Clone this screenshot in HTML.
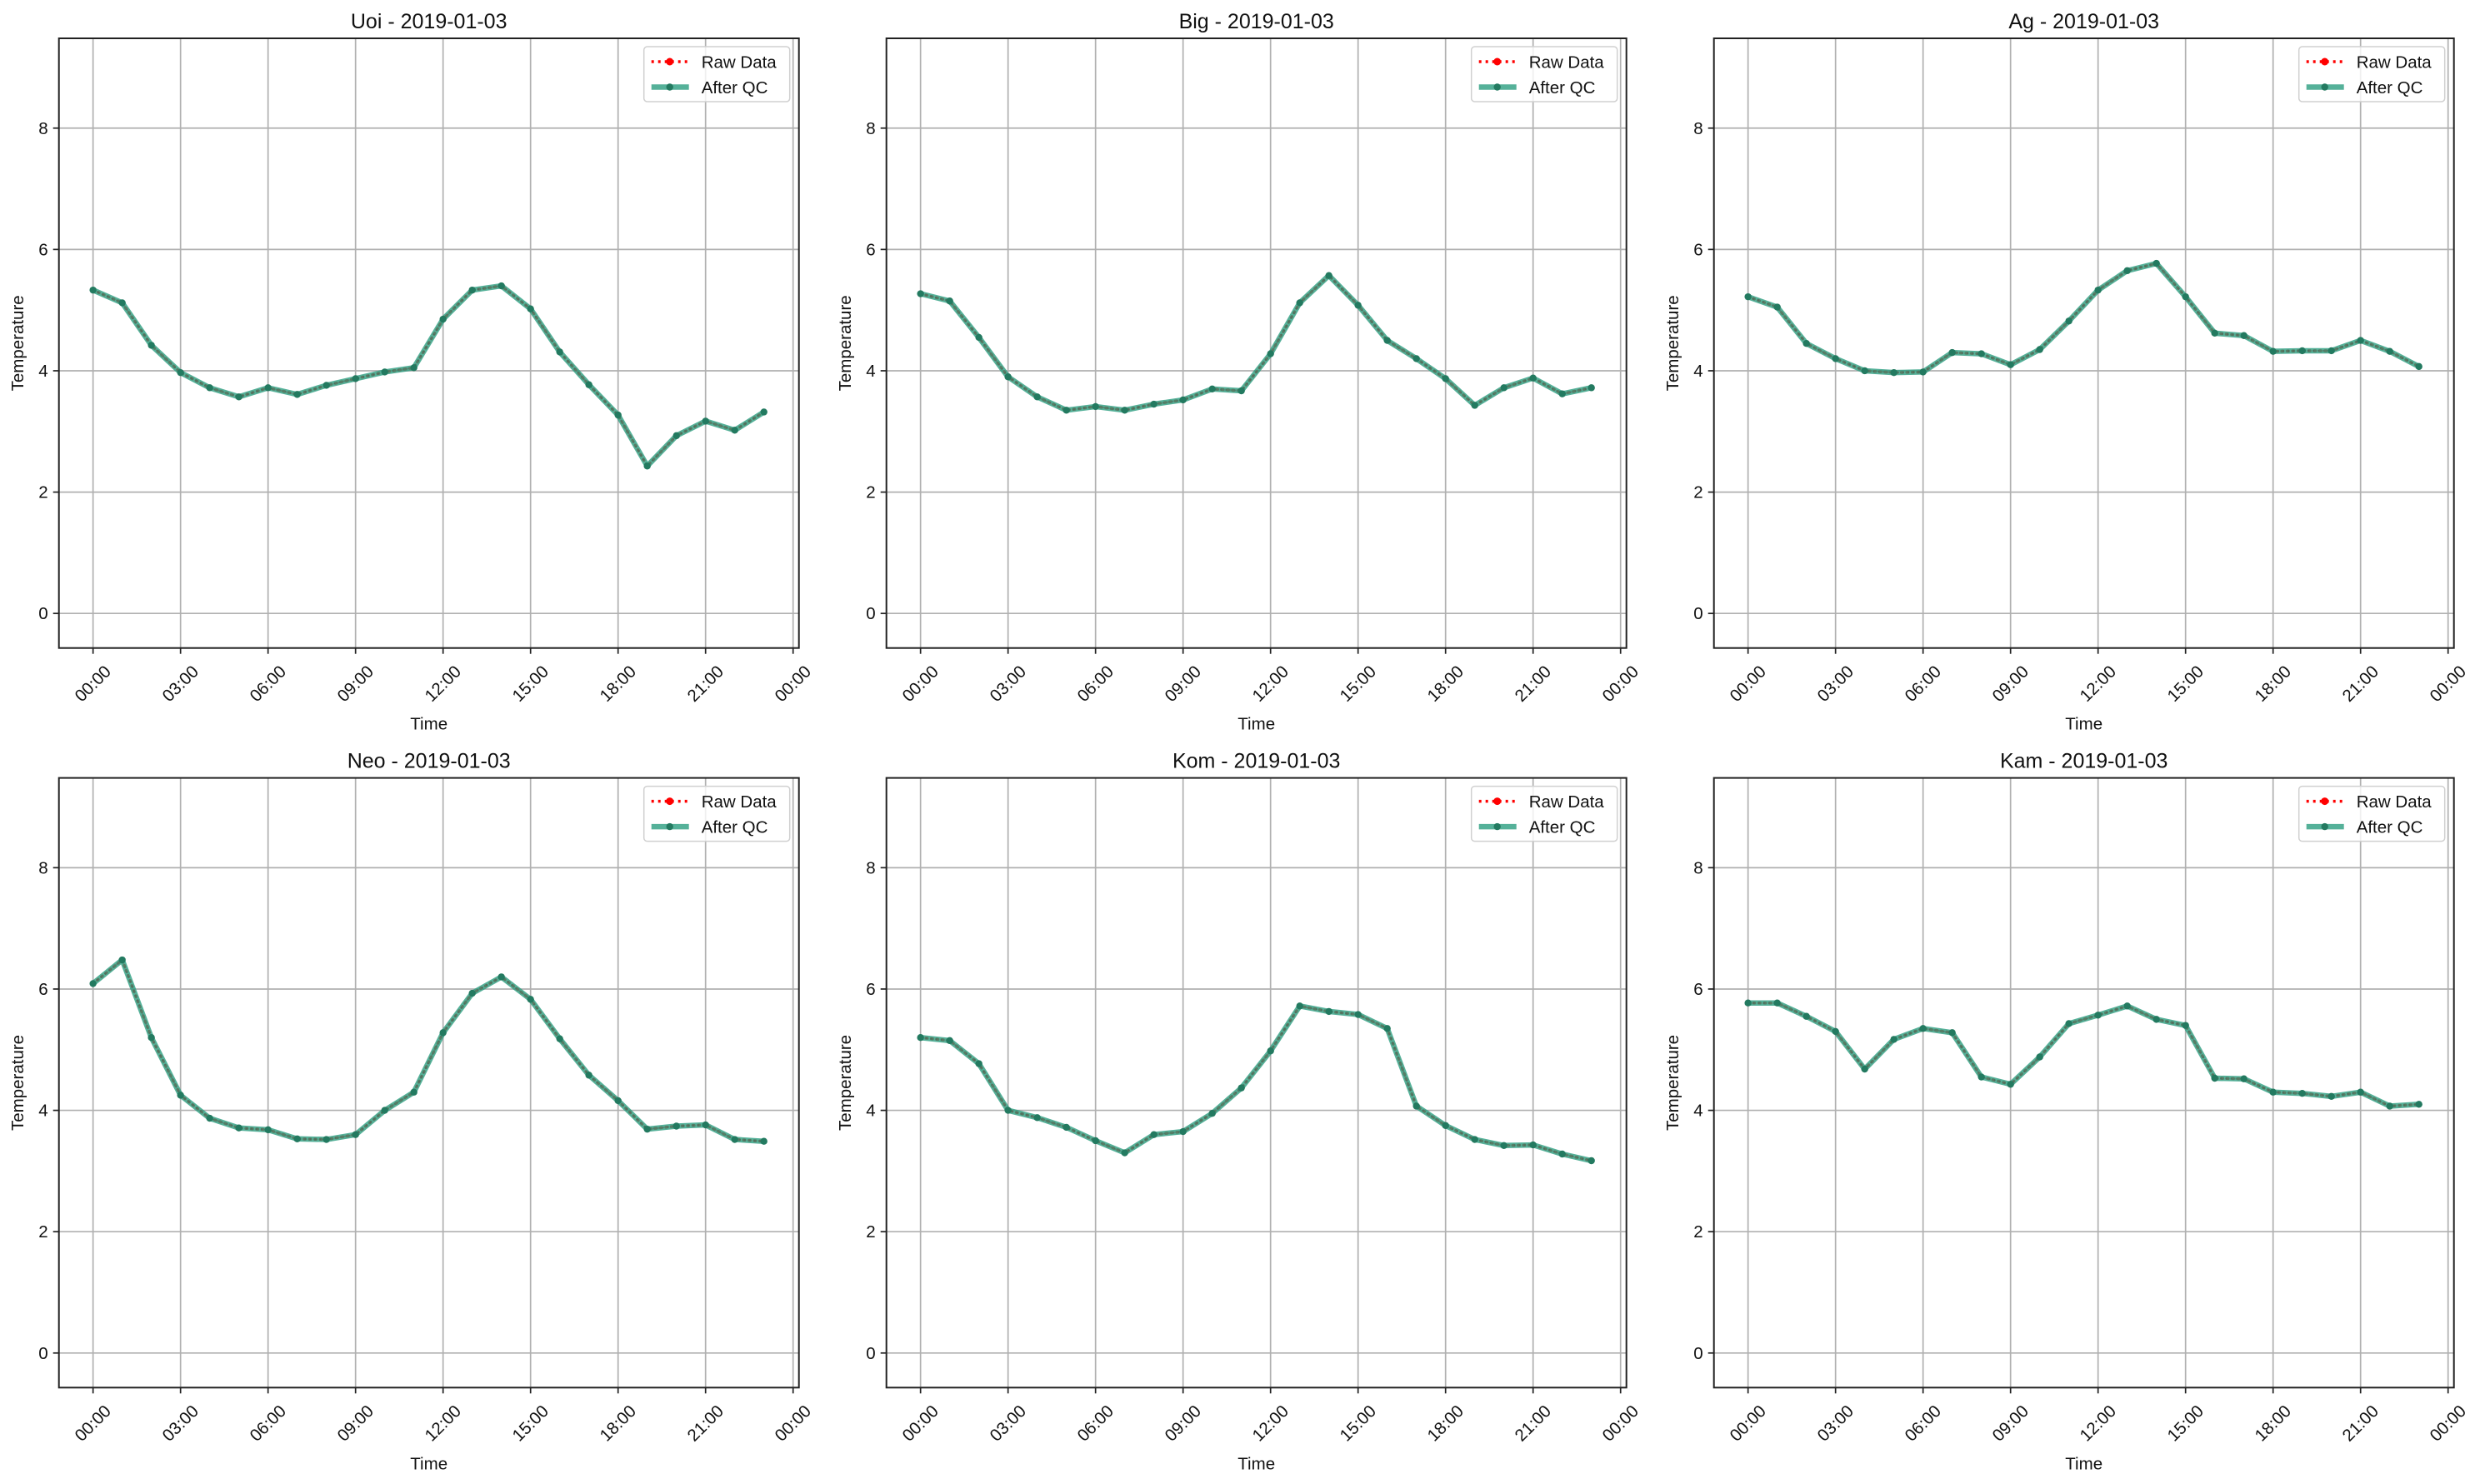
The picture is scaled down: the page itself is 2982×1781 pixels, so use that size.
<!DOCTYPE html>
<html><head><meta charset="utf-8"><style>
html,body{margin:0;padding:0;background:#fff;}
svg{display:block;font-family:"Liberation Sans","DejaVu Sans",sans-serif;}
</style></head><body>
<svg id="fig" width="2982" height="1781" viewBox="0 0 2982 1781" xmlns="http://www.w3.org/2000/svg"></svg>
<script>
const stations = ["Uoi","Big","Ag","Neo","Kom","Kam"];
const dateLabel = "2019-01-03";
const hours = [0,1,2,3,4,5,6,7,8,9,10,11,12,13,14,15,16,17,18,19,20,21,22,23];
const tempUoi = [5.33,5.12,4.42,3.97,3.72,3.57,3.72,3.61,3.76,3.87,3.98,4.05,4.85,5.33,5.40,5.02,4.31,3.77,3.27,2.43,2.93,3.17,3.02,3.32];
const tempBig = [5.27,5.15,4.55,3.90,3.57,3.35,3.41,3.35,3.45,3.52,3.70,3.67,4.28,5.12,5.57,5.08,4.50,4.20,3.87,3.43,3.72,3.88,3.62,3.72];
const tempAg  = [5.22,5.05,4.45,4.20,4.00,3.97,3.98,4.30,4.28,4.10,4.35,4.82,5.33,5.65,5.77,5.22,4.62,4.58,4.32,4.33,4.33,4.50,4.32,4.07];
const tempNeo = [6.09,6.48,5.20,4.25,3.87,3.71,3.68,3.53,3.52,3.60,4.00,4.30,5.28,5.93,6.20,5.83,5.18,4.58,4.16,3.69,3.74,3.76,3.52,3.49];
const tempKom = [5.20,5.15,4.77,4.00,3.88,3.72,3.50,3.30,3.60,3.65,3.95,4.37,4.98,5.72,5.63,5.58,5.35,4.07,3.75,3.52,3.42,3.43,3.28,3.17];
const tempKam = [5.77,5.77,5.55,5.30,4.68,5.17,5.35,5.28,4.55,4.43,4.88,5.43,5.57,5.72,5.50,5.40,4.53,4.52,4.30,4.28,4.23,4.30,4.07,4.10];
const yTicks = [0,2,4,6,8];
const xTickHours = [0,3,6,9,12,15,18,21,24];
const xTickLabels = ["00:00","03:00","06:00","09:00","12:00","15:00","18:00","21:00","00:00"];
const allSeries = [tempUoi,tempBig,tempAg,tempNeo,tempKom,tempKam];

const NS="http://www.w3.org/2000/svg";
const svg=document.getElementById('fig');
function mk(tag,attrs,parent){const e=document.createElementNS(NS,tag);for(const k in attrs)e.setAttribute(k,attrs[k]);(parent||svg).appendChild(e);return e;}

const W=888,H=731.7,X0=-1.17,X1=24.2,Y0=-0.57,Y1=9.48;
const colL=[70.7,1063.7,2056.7], rowT=[46,933.6];

stations.forEach((name,i)=>{
  const L=colL[i%3], T=rowT[Math.floor(i/3)];
  const sx=h=>L+(h-X0)/(X1-X0)*W;
  const sy=v=>T+(Y1-v)/(Y1-Y0)*H;
  const g=mk('g',{});
  
  
  xTickHours.forEach((h,k)=>{
    const x=sx(h);
    if(x<=L+W){const gl=mk('line',{x1:x,x2:x,y1:T,y2:T+H,stroke:'#b0b0b0','stroke-width':1.7},g);
      }
    const tk=mk('line',{x1:x,x2:x,y1:T+H,y2:T+H+7,stroke:'#222','stroke-width':1.7},g);
    
    const cy=T+H+43;
    const t=mk('text',{x:x,y:cy,'font-size':20.5,'text-anchor':'middle','dominant-baseline':'central',fill:'#111',transform:`rotate(-45 ${x} ${cy})`},g);
    t.textContent=xTickLabels[k];
    
  });
  yTicks.forEach(v=>{
    const y=sy(v);
    const gl=mk('line',{x1:L,x2:L+W,y1:y,y2:y,stroke:'#b0b0b0','stroke-width':1.7},g);
    
    const tk=mk('line',{x1:L-7,x2:L,y1:y,y2:y,stroke:'#222','stroke-width':1.7},g);
    
    const t=mk('text',{x:L-13,y:y+7,'font-size':20.5,'text-anchor':'end',fill:'#111'},g);
    t.textContent=String(v);
    
  });
  const data=allSeries[i];
  const pts=hours.map((h,k)=>sx(h)+','+sy(data[k])).join(' ');
  const raw=mk('polyline',{points:pts,fill:'none',stroke:'#ff0000','stroke-width':3.5,'stroke-dasharray':'1.5 5','stroke-linecap':'round'},g);
  
  const qc=mk('polyline',{points:pts,fill:'none',stroke:'#2a9d7f','stroke-opacity':0.8,'stroke-width':6.5,'stroke-linejoin':'round'},g);
  
  const dl=mk('polyline',{points:pts,fill:'none',stroke:'#4a5a50','stroke-opacity':0.4,'stroke-width':2.2,'stroke-dasharray':'2 4'},g);
  
  hours.forEach((h,k)=>{
    const c=mk('circle',{cx:sx(h),cy:sy(data[k]),r:4.2,fill:'#237a60'},g);
    
  });
  const fr=mk('rect',{x:L,y:T,width:W,height:H,fill:'none',stroke:'#222','stroke-width':2},g);
  
  const ti=mk('text',{x:L+W/2,y:T-12,'font-size':25,'text-anchor':'middle',fill:'#111'},g);
  ti.textContent=name+' - '+dateLabel;
  
  const xl=mk('text',{x:L+W/2,y:T+H+98,'font-size':20.5,'text-anchor':'middle',fill:'#111'},g);
  xl.textContent='Time';
  
  const yx=L-49,yy=T+H/2;
  const yl=mk('text',{x:yx,y:yy,'font-size':20.5,'text-anchor':'middle','dominant-baseline':'central',fill:'#111',transform:`rotate(-90 ${yx} ${yy})`},g);
  yl.textContent='Temperature';
  
  const lg=mk('g',{},g);
  
  const lx=L+W-186, ly=T+10;
  mk('rect',{x:lx,y:ly,width:175,height:66,rx:4,fill:'#fff','fill-opacity':0.8,stroke:'#d0d0d0','stroke-width':1.5},lg);
  const e1=mk('g',{},lg);
  
  mk('line',{x1:lx+9,x2:lx+54,y1:ly+18,y2:ly+18,stroke:'#ff0000','stroke-width':3.5,'stroke-dasharray':'3 5'},e1);
  mk('circle',{cx:lx+31,cy:ly+18,r:4.5,fill:'#ff0000'},e1);
  const t1=mk('text',{x:lx+69,y:ly+25.5,'font-size':20.5,fill:'#111'},e1);t1.textContent='Raw Data';
  const e2=mk('g',{},lg);
  
  mk('line',{x1:lx+9,x2:lx+54,y1:ly+48.5,y2:ly+48.5,stroke:'#2a9d7f','stroke-opacity':0.8,'stroke-width':6.5},e2);
  mk('circle',{cx:lx+31,cy:ly+48.5,r:4.2,fill:'#237a60'},e2);
  const t2=mk('text',{x:lx+69,y:ly+56,'font-size':20.5,fill:'#111'},e2);t2.textContent='After QC';
});
</script>
</body></html>
